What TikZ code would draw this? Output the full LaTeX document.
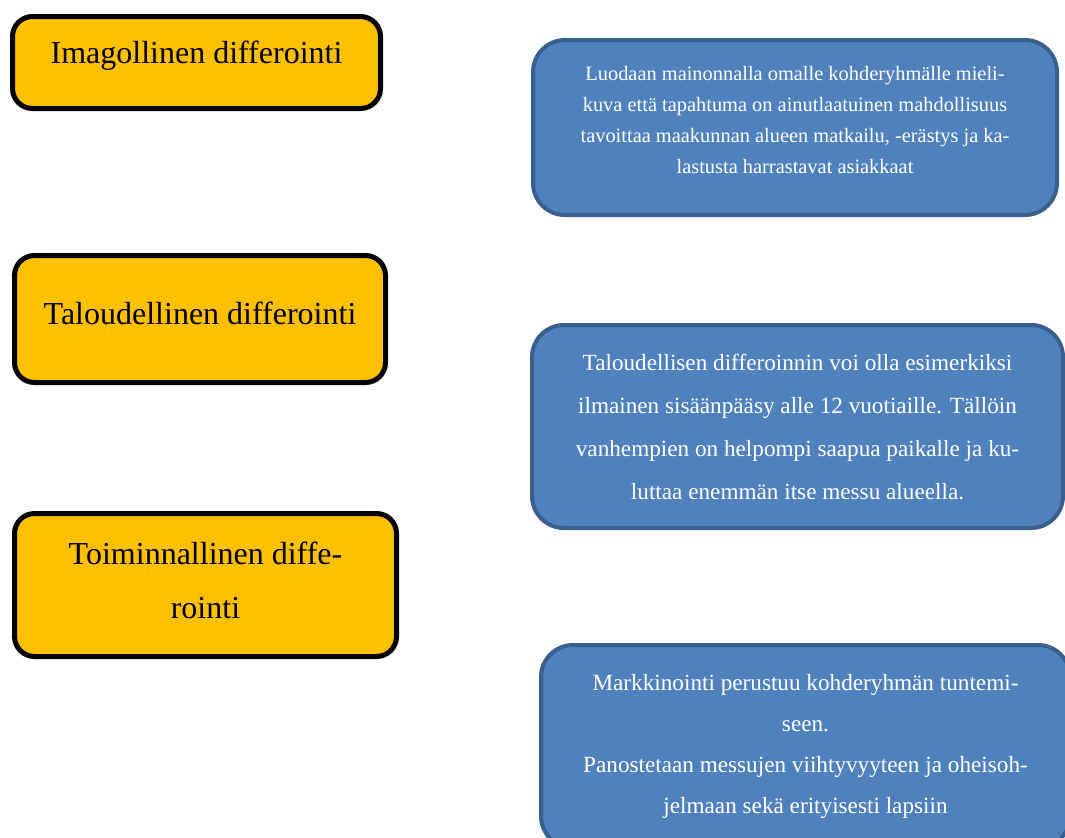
\documentclass[tikz,border=0pt]{standalone}
\usepackage{fontspec}
\setmainfont{Liberation Serif}
\usetikzlibrary{positioning}
\definecolor{gold}{HTML}{FFC000}
\definecolor{steel}{HTML}{4F81BD}
\definecolor{steeldark}{HTML}{3A5F8C}

\begin{document}
\begin{tikzpicture}[x=0.5pt,y=-0.5pt,
  diff/.style={draw=black, line width=2.5pt, fill=gold, rounded corners=10pt,
    align=center, inner sep=0pt, font=\fontsize{16}{27}\selectfont},
  info/.style={draw=steeldark, line width=2pt, fill=steel, text=white,
    rounded corners=16pt, align=center, inner sep=0pt}]
  \useasboundingbox (0,0) rectangle (1065,837);
  \clip (0,0) rectangle (1065,837);
  % left column
  \node[diff, minimum width=184pt, minimum height=46pt, text depth=10pt] (imago) at (196.5,62.5)
    {Imagollinen differointi};
  \node[diff, minimum width=185.5pt, minimum height=63.5pt, text depth=6pt] (talous) at (200,319)
    {Taloudellinen differointi};
  \node[diff, minimum width=191pt, minimum height=71.5pt, text depth=5pt] (toimi) at (205.5,585)
    {Toiminnallinen diffe-\\rointi};
  % right column
  \node[info, minimum width=262pt, minimum height=87.5pt, text depth=8pt,
    font=\fontsize{10.2}{15.5}\selectfont] (imagoinfo) at (795,127.5)
    {Luodaan mainonnalla omalle kohderyhmälle mieli-\\kuva että tapahtuma on ainutlaatuinen mahdollisuus\\tavoittaa maakunnan alueen matkailu, -erästys ja ka-\\lastusta harrastavat asiakkaat};
  \node[info, minimum width=265.5pt, minimum height=101.5pt,
    font=\fontsize{11.6}{21.5}\selectfont] (talousinfo) at (797.5,426.5)
    {Taloudellisen differoinnin voi olla esimerkiksi\\ilmainen sisäänpääsy alle 12 vuotiaille. Tällöin\\vanhempien on helpompi saapua paikalle ja ku-\\luttaa enemmän itse messu alueella.};
  \node[info, minimum width=264.5pt, minimum height=101.5pt,
    font=\fontsize{11.6}{20.5}\selectfont] (toimiinfo) at (805.5,746.5)
    {Markkinointi perustuu kohderyhmän tuntemi-\\seen.\\Panostetaan messujen viihtyvyyteen ja oheisoh-\\jelmaan sekä erityisesti lapsiin};
\end{tikzpicture}
\end{document}
